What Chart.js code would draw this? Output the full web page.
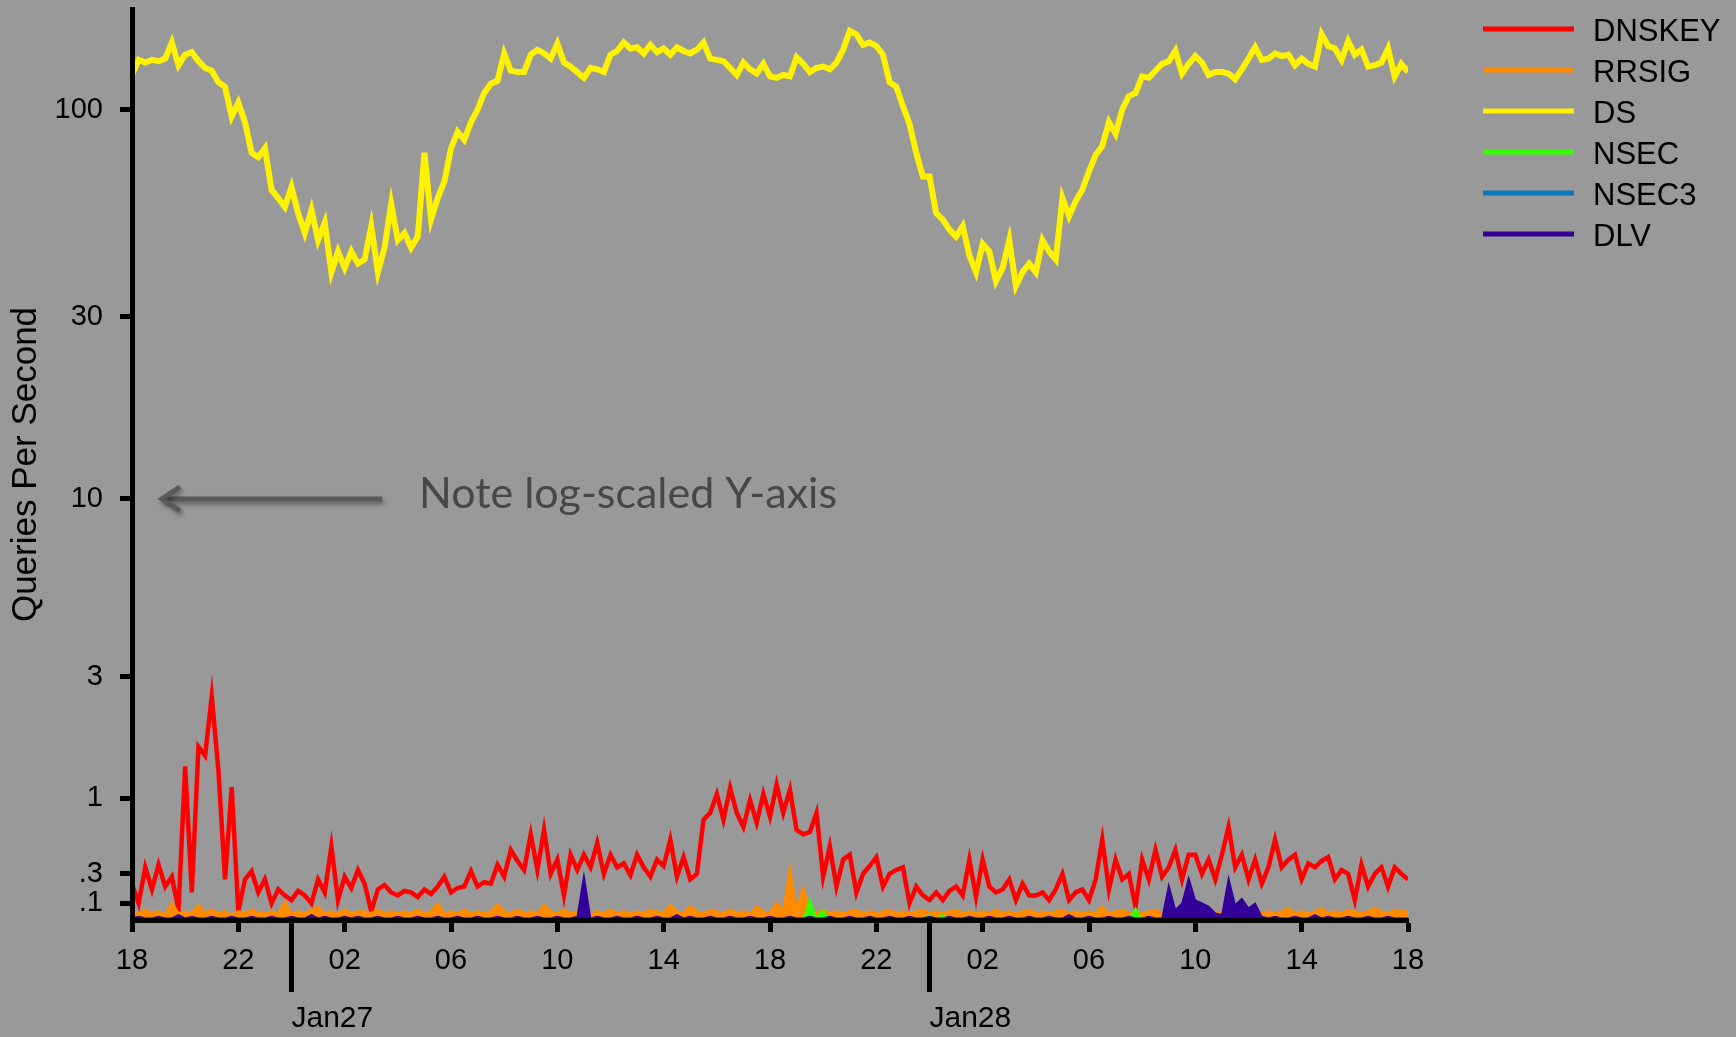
<!DOCTYPE html>
<html>
<head>
<meta charset="utf-8">
<script src="https://cdn.jsdelivr.net/npm/chart.js"></script>
<style>
    html, body { margin: 0; padding: 0; background: #999999; overflow: hidden; }
    #wrap { width: 1736px; height: 1037px; }
</style>
</head>
<body>
<div id="wrap"><canvas id="dnsChart" width="1736" height="1037"></canvas></div>
<script>
// Queries per second by record type, Jan 26 18:00 -> Jan 28 18:00
// every series is evenly spaced over the 48 hours (15 min steps unless noted)
var seriesNames = ['DNSKEY', 'RRSIG', 'DS', 'NSEC', 'NSEC3', 'DLV'];
var hourTickLabels = ['18', '22', '02', '06', '10', '14', '18', '22', '02', '06', '10', '14', '18'];
var dayLabels = ['Jan27', 'Jan28'];
var dayHours = [6, 30];
var yTickValues = [0.1, 0.3, 1, 3, 10, 30, 100];
var yTickLabels = ['.1', '.3', '1', '3', '10', '30', '100'];
var noteText = 'Note log-scaled Y-axis';

var dnskey = [
    0.23, 0.10, 0.35, 0.19, 0.37, 0.21, 0.28, 0.06, 1.40, 0.17, 1.68, 1.55,
    2.57, 1.35, 0.26, 1.13, 0.05, 0.26, 0.32, 0.17, 0.26, 0.10, 0.19, 0.15,
    0.12, 0.18, 0.15, 0.10, 0.26, 0.17, 0.52, 0.12, 0.28, 0.20, 0.33, 0.23,
    0.05, 0.19, 0.22, 0.17, 0.15, 0.18, 0.17, 0.14, 0.19, 0.16, 0.21, 0.28,
    0.17, 0.20, 0.21, 0.32, 0.21, 0.24, 0.23, 0.37, 0.28, 0.49, 0.40, 0.33,
    0.63, 0.33, 0.67, 0.30, 0.41, 0.15, 0.45, 0.33, 0.45, 0.35, 0.55, 0.30,
    0.45, 0.35, 0.38, 0.29, 0.45, 0.35, 0.28, 0.41, 0.36, 0.58, 0.28, 0.43,
    0.26, 0.30, 0.77, 0.84, 1.05, 0.77, 1.12, 0.84, 0.70, 0.98, 0.74, 1.05,
    0.80, 1.16, 0.84, 1.10, 0.67, 0.63, 0.65, 0.84, 0.28, 0.52, 0.21, 0.41,
    0.45, 0.17, 0.30, 0.36, 0.43, 0.21, 0.30, 0.33, 0.35, 0.10, 0.21, 0.15,
    0.12, 0.17, 0.12, 0.18, 0.21, 0.15, 0.41, 0.14, 0.41, 0.21, 0.17, 0.19,
    0.26, 0.12, 0.23, 0.15, 0.15, 0.17, 0.12, 0.19, 0.30, 0.12, 0.17, 0.19,
    0.12, 0.26, 0.58, 0.19, 0.41, 0.26, 0.30, 0.08, 0.41, 0.26, 0.49, 0.28,
    0.35, 0.49, 0.26, 0.45, 0.45, 0.30, 0.41, 0.26, 0.45, 0.70, 0.35, 0.45,
    0.26, 0.41, 0.23, 0.35, 0.58, 0.35, 0.41, 0.45, 0.26, 0.38, 0.35, 0.40,
    0.43, 0.26, 0.33, 0.30, 0.12, 0.37, 0.21, 0.30, 0.35, 0.21, 0.35, 0.30,
    0.26
];

var rrsig = [
    0.05, 0.04, 0.06, 0.04, 0.05, 0.03, 0.10, 0.04, 0.05, 0.04, 0.09, 0.04,
    0.06, 0.04, 0.05, 0.03, 0.05, 0.04, 0.06, 0.04, 0.04, 0.05, 0.04, 0.11,
    0.04, 0.05, 0.04, 0.06, 0.08, 0.04, 0.05, 0.04, 0.06, 0.04, 0.05, 0.05,
    0.04, 0.06, 0.04, 0.05, 0.04, 0.05, 0.04, 0.06, 0.04, 0.05, 0.10, 0.04,
    0.05, 0.04, 0.06, 0.04, 0.05, 0.04, 0.05, 0.09, 0.05, 0.04, 0.06, 0.04,
    0.05, 0.04, 0.09, 0.05, 0.04, 0.06, 0.04, 0.05, 0.04, 0.03, 0.05, 0.04,
    0.06, 0.04, 0.05, 0.04, 0.05, 0.04, 0.06, 0.05, 0.04, 0.09, 0.05, 0.04,
    0.08, 0.05, 0.04, 0.06, 0.05, 0.04, 0.06, 0.04, 0.05, 0.04, 0.08, 0.05,
    0.04, 0.10, 0.05, 0.34, 0.06, 0.20, 0.05, 0.04, 0.06, 0.04, 0.05, 0.04,
    0.05, 0.06, 0.04, 0.05, 0.04, 0.05, 0.06, 0.04, 0.05, 0.04, 0.05, 0.06,
    0.04, 0.05, 0.04, 0.05, 0.06, 0.04, 0.05, 0.04, 0.05, 0.04, 0.06, 0.04,
    0.05, 0.04, 0.05, 0.06, 0.04, 0.05, 0.04, 0.05, 0.06, 0.04, 0.05, 0.04,
    0.05, 0.04, 0.08, 0.04, 0.05, 0.06, 0.04, 0.05, 0.04, 0.05, 0.06, 0.04,
    0.05, 0.04, 0.05, 0.04, 0.06, 0.04, 0.05, 0.04, 0.05, 0.04, 0.08, 0.05,
    0.04, 0.06, 0.04, 0.05, 0.04, 0.05, 0.07, 0.04, 0.05, 0.04, 0.05, 0.07,
    0.04, 0.05, 0.04, 0.06, 0.05, 0.04, 0.05, 0.07, 0.05, 0.04, 0.06, 0.05,
    0.05
];

var ds = [
    122, 133, 131, 133, 132, 134, 147, 129, 137, 139, 132, 127,
    125, 117, 114, 96, 104, 93, 78, 76, 80, 63, 60, 57,
    64, 55, 49, 56, 47, 52, 39, 44, 40, 44, 41, 42,
    51, 39, 45, 58, 47, 49, 45, 48, 78, 53, 60, 66,
    80, 88, 84, 93, 100, 110, 116, 118, 138, 125, 124, 124,
    137, 141, 138, 134, 146, 131, 128, 124, 120, 127, 126, 124,
    137, 140, 147, 142, 143, 138, 145, 139, 142, 137, 143, 140,
    138, 141, 147, 134, 133, 132, 127, 122, 131, 126, 123, 130,
    121, 120, 122, 121, 135, 130, 124, 127, 128, 126, 131, 141,
    157, 154, 145, 147, 144, 137, 117, 114, 102, 92, 78, 68,
    68, 55, 53, 50, 48, 51, 43, 39, 46, 44, 37, 40,
    47, 36, 39, 41, 39, 47, 44, 42, 60, 54, 59, 63,
    70, 77, 81, 93, 87, 100, 108, 110, 121, 120, 125, 130,
    132, 140, 123, 130, 136, 131, 122, 124, 124, 123, 119, 126,
    134, 143, 133, 134, 138, 136, 137, 129, 134, 130, 128, 154,
    144, 142, 133, 148, 137, 141, 128, 129, 131, 142, 121, 130,
    124
];

var nsec = [
    0, 0, 0, 0, 0, 0, 0, 0, 0, 0, 0, 0,
    0, 0, 0, 0, 0, 0, 0, 0, 0, 0, 0, 0,
    0, 0, 0, 0, 0, 0, 0, 0, 0, 0, 0, 0,
    0, 0, 0, 0, 0, 0, 0, 0, 0, 0, 0, 0,
    0, 0, 0, 0, 0, 0, 0, 0, 0, 0, 0, 0,
    0, 0, 0, 0, 0, 0, 0, 0, 0, 0, 0, 0,
    0, 0, 0, 0, 0, 0, 0, 0, 0, 0, 0, 0,
    0, 0, 0, 0, 0, 0, 0, 0, 0, 0, 0, 0,
    0, 0, 0, 0, 0, 0, 0.13, 0.01, 0.06, 0, 0, 0,
    0, 0, 0, 0, 0, 0, 0, 0, 0, 0, 0, 0,
    0.03, 0, 0.03, 0, 0, 0, 0, 0, 0, 0, 0, 0,
    0, 0, 0, 0, 0, 0, 0, 0, 0, 0, 0, 0,
    0, 0, 0, 0, 0, 0, 0, 0.07, 0, 0, 0, 0,
    0, 0, 0, 0, 0, 0, 0, 0, 0, 0, 0, 0,
    0, 0, 0, 0, 0, 0, 0, 0, 0, 0, 0, 0,
    0, 0, 0, 0, 0, 0, 0, 0, 0, 0, 0, 0,
    0
];

// hourly
var nsec3 = [
    0, 0, 0, 0, 0, 0, 0, 0, 0, 0, 0, 0,
    0, 0, 0, 0, 0, 0, 0, 0, 0, 0, 0, 0,
    0, 0, 0, 0, 0, 0, 0, 0, 0, 0, 0, 0,
    0, 0, 0, 0, 0, 0, 0, 0, 0, 0, 0, 0,
    0
];

var dlv = [
    0.01, 0.02, 0.01, 0.01, 0.02, 0.01, 0.01, 0.03, 0.01, 0.02, 0.01, 0.01,
    0.02, 0.01, 0.01, 0.02, 0.01, 0.01, 0.02, 0.01, 0.01, 0.02, 0.01, 0.01,
    0.02, 0.01, 0.01, 0.03, 0.01, 0.02, 0.01, 0.01, 0.02, 0.01, 0.02, 0.01,
    0.01, 0.02, 0.01, 0.01, 0.02, 0.01, 0.01, 0.02, 0.01, 0.01, 0.02, 0.01,
    0.01, 0.02, 0.01, 0.01, 0.02, 0.01, 0.01, 0.02, 0.01, 0.01, 0.02, 0.01,
    0.01, 0.02, 0.01, 0.01, 0.02, 0.01, 0.01, 0.02, 0.29, 0.01, 0.02, 0.01,
    0.01, 0.02, 0.01, 0.01, 0.02, 0.01, 0.01, 0.02, 0.01, 0.01, 0.03, 0.01,
    0.02, 0.01, 0.01, 0.02, 0.01, 0.01, 0.02, 0.01, 0.01, 0.02, 0.01, 0.01,
    0.02, 0.01, 0.01, 0.02, 0.01, 0.01, 0.02, 0.01, 0.01, 0.02, 0.01, 0.01,
    0.02, 0.01, 0.01, 0.02, 0.01, 0.01, 0.02, 0.01, 0.01, 0.02, 0.01, 0.01,
    0.02, 0.01, 0.01, 0.02, 0.01, 0.01, 0.02, 0.01, 0.01, 0.02, 0.01, 0.01,
    0.02, 0.01, 0.01, 0.02, 0.01, 0.01, 0.02, 0.01, 0.01, 0.03, 0.01, 0.01,
    0.02, 0.01, 0.01, 0.02, 0.01, 0.01, 0.02, 0.01, 0.01, 0.02, 0.01, 0.01,
    0.22, 0.06, 0.10, 0.27, 0.12, 0.10, 0.08, 0.04, 0.03, 0.27, 0.09, 0.13,
    0.07, 0.10, 0.02, 0.01, 0.02, 0.01, 0.01, 0.02, 0.01, 0.01, 0.03, 0.01,
    0.02, 0.01, 0.01, 0.02, 0.01, 0.01, 0.02, 0.01, 0.01, 0.02, 0.01, 0.01,
    0.01
];

var seriesColors = {
    DNSKEY: '#ff0000',
    RRSIG: '#ff8c00',
    DS: '#fff200',
    NSEC: '#33ff00',
    NSEC3: '#0a78b4',
    DLV: '#330099'
};

// the y axis is log10(1 + qps)
function qps(v) {
    return Math.log10(1 + v);
}

function toPoints(values) {
    var step = 48 / (values.length - 1);
    return values.map(function (v, i) {
        return { x: i * step, y: qps(v) };
    });
}

function lineSet(name, values, width, filled, order) {
    return {
        label: name,
        data: toPoints(values),
        borderColor: seriesColors[name],
        backgroundColor: seriesColors[name],
        borderWidth: width,
        fill: filled ? 'origin' : false,
        pointRadius: 0,
        tension: 0,
        order: order
    };
}

// day boundaries under the x axis
var dayMarkers = {
    id: 'dayMarkers',
    afterDraw: function (chart) {
        var ctx = chart.ctx;
        var xs = chart.scales.x;
        var bottom = chart.chartArea.bottom;
        ctx.save();
        ctx.strokeStyle = '#000';
        ctx.fillStyle = '#000';
        ctx.lineWidth = 5;
        ctx.font = '30px "Liberation Sans", Arial, sans-serif';
        ctx.textAlign = 'left';
        ctx.textBaseline = 'middle';
        dayHours.forEach(function (h, i) {
            var x = xs.getPixelForValue(h);
            ctx.beginPath();
            ctx.moveTo(x, bottom);
            ctx.lineTo(x, bottom + 72);
            ctx.stroke();
            ctx.fillText(dayLabels[i], x, bottom + 99);
        });
        ctx.restore();
    }
};

// legend on the right
var sideLegend = {
    id: 'sideLegend',
    afterDraw: function (chart) {
        var ctx = chart.ctx;
        var area = chart.chartArea;
        ctx.save();
        ctx.font = '31px "Liberation Sans", Arial, sans-serif';
        ctx.textAlign = 'left';
        ctx.textBaseline = 'middle';
        seriesNames.forEach(function (name, i) {
            var y = area.top + 20 + i * 41;
            ctx.strokeStyle = seriesColors[name];
            ctx.lineWidth = 5;
            ctx.beginPath();
            ctx.moveTo(area.right + 75, y);
            ctx.lineTo(area.right + 166, y);
            ctx.stroke();
            ctx.fillStyle = '#000';
            ctx.fillText(name, area.right + 185, y + 3);
        });
        ctx.restore();
    }
};

// arrow + note pointing at the 10 tick
var logNote = {
    id: 'logNote',
    afterDraw: function (chart) {
        var ctx = chart.ctx;
        var area = chart.chartArea;
        var y = chart.scales.y.getPixelForValue(qps(10));
        var tip = area.left + 27;
        var tail = area.left + 250;
        ctx.save();
        ctx.shadowColor = 'rgba(0,0,0,0.35)';
        ctx.shadowBlur = 4;
        ctx.shadowOffsetX = 2;
        ctx.shadowOffsetY = 3;
        ctx.strokeStyle = '#595959';
        ctx.lineWidth = 5;
        ctx.lineCap = 'butt';
        ctx.beginPath();
        ctx.moveTo(tail, y);
        ctx.lineTo(tip + 3, y);
        ctx.stroke();
        ctx.lineJoin = 'miter';
        ctx.beginPath();
        ctx.moveTo(tip + 21, y - 12);
        ctx.lineTo(tip + 3, y);
        ctx.lineTo(tip + 21, y + 12);
        ctx.stroke();
        ctx.restore();

        ctx.save();
        ctx.fillStyle = '#474747';
        ctx.font = '42px Lato, "Open Sans", sans-serif';
        ctx.textBaseline = 'alphabetic';
        var w = ctx.measureText(noteText).width;
        ctx.translate(area.left + 287, y + 9);
        ctx.scale(418 / w, 1);
        ctx.fillText(noteText, 0, 0);
        ctx.restore();
    }
};

Chart.defaults.font.family = '"Liberation Sans", Arial, sans-serif';
Chart.defaults.color = '#000';

var ctx = document.getElementById('dnsChart').getContext('2d');
var dnsChart = new Chart(ctx, {
    type: 'line',
    data: {
        datasets: [
            lineSet('DNSKEY', dnskey, 4.5, false, 5),
            lineSet('RRSIG', rrsig, 2.5, true, 4),
            lineSet('DS', ds, 6, false, 3),
            lineSet('NSEC', nsec, 1.5, true, 2),
            lineSet('NSEC3', nsec3, 1.5, true, 1),
            lineSet('DLV', dlv, 1.5, true, 0)
        ]
    },
    options: {
        responsive: false,
        animation: false,
        events: [],
        devicePixelRatio: 1,
        layout: { padding: { top: 9, right: 328, left: 0, bottom: 0 } },
        plugins: {
            legend: { display: false },
            tooltip: { enabled: false }
        },
        scales: {
            x: {
                type: 'linear',
                min: 0,
                max: 48,
                afterFit: function (scale) {
                    scale.height = 117;
                    scale.paddingLeft = 0;
                    scale.paddingRight = 0;
                },
                ticks: {
                    stepSize: 4,
                    autoSkip: false,
                    maxRotation: 0,
                    minRotation: 0,
                    padding: 12,
                    font: { size: 29 },
                    color: '#000',
                    callback: function (value) {
                        return hourTickLabels[Math.round(value / 4)];
                    }
                },
                grid: {
                    drawOnChartArea: false,
                    drawTicks: true,
                    tickLength: 12,
                    tickWidth: 5,
                    tickColor: '#000'
                },
                border: { display: true, color: '#000', width: 5, z: 1 }
            },
            y: {
                type: 'linear',
                min: 0,
                max: 2.253,
                afterFit: function (scale) {
                    scale.width = 132;
                    scale.paddingTop = 0;
                    scale.paddingBottom = 0;
                },
                afterBuildTicks: function (scale) {
                    scale.ticks = yTickValues.map(function (v) { return { value: qps(v) }; });
                },
                ticks: {
                    padding: 17,
                    font: { size: 29 },
                    color: '#000',
                    callback: function (value, index) {
                        return yTickLabels[index];
                    }
                },
                grid: {
                    drawOnChartArea: false,
                    drawTicks: true,
                    tickLength: 12,
                    tickWidth: 5,
                    tickColor: '#000'
                },
                border: { display: true, color: '#000', width: 5, z: 1 },
                title: {
                    display: true,
                    text: 'Queries Per Second',
                    color: '#000',
                    font: { size: 35 },
                    padding: { top: 5, bottom: 0 }
                }
            }
        }
    },
    plugins: [dayMarkers, sideLegend, logNote]
});
</script>
</body>
</html>
